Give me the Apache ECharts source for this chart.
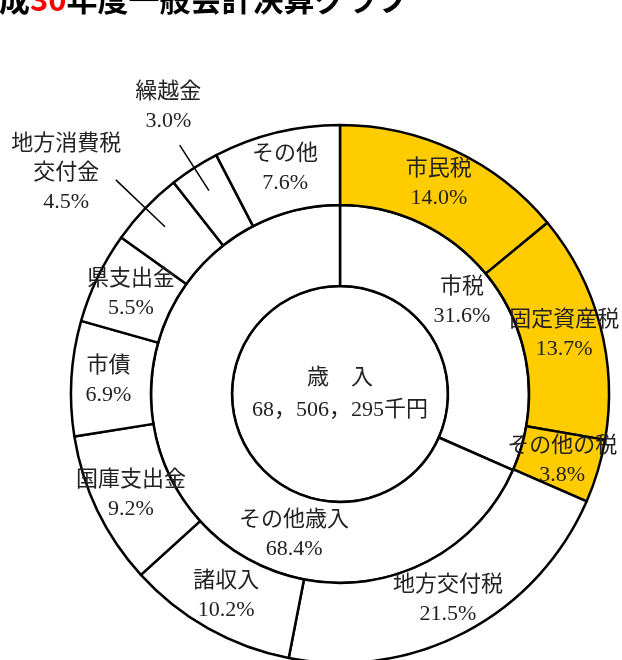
<!DOCTYPE html>
<html>
<head>
<meta charset="utf-8">
<script src="https://cdn.jsdelivr.net/npm/echarts@6/dist/echarts.min.js"></script>
<style>
html, body { margin: 0; padding: 0; background: #fff; }
#main { width: 622px; height: 660px; }
</style>
</head>
<body>
<div id="main"></div>
<script>
// 平成30年度 一般会計 歳入
var totalName = '歳　入';
var totalText = '68，506，295千円';
var innerNames = ['市税', 'その他歳入'];
var innerValues = [31.6, 68.4];
var outerNames = ['市民税', '固定資産税', 'その他の税', '地方交付税', '諸収入', '国庫支出金', '市債', '県支出金', '地方消費税\n交付金', '繰越金', 'その他'];
var outerValues = [14.0, 13.7, 3.8, 21.5, 10.2, 9.2, 6.9, 5.5, 4.5, 3.0, 7.6];
var taxCount = 3;          // 市税の内訳は黄色
var calloutIdx = [8, 9];   // 引出線つきのラベル

var labelFont = '"Liberation Serif", "Noto Sans CJK JP", serif';
var yellow = '#ffcc00';
var lineColor = '#000';

// ラベルのずらし量
var innerShift = { 0: [-5, -10], 1: [81, 58] };
var outerShift = { 8: [-106, -61], 9: [-46, -92] };
var calloutLen = { 8: 68, 9: 54 };

function pctLabel(p) {
    return p.name + '\n' + p.value.toFixed(1) + '%';
}

var labelStyle = {
    show: true,
    position: 'inside',
    color: '#222',
    fontFamily: labelFont,
    fontSize: 22,
    lineHeight: 29,
    formatter: pctLabel
};

var innerData = innerNames.map(function (n, i) {
    return { name: n, value: innerValues[i] };
});
var outerData = outerNames.map(function (n, i) {
    return { name: n, value: outerValues[i], itemStyle: { color: i < taxCount ? yellow : '#fff' } };
});
var helperData = outerNames.map(function (n, i) {
    var d = { name: n, value: outerValues[i] };
    if (calloutIdx.indexOf(i) >= 0) {
        d.label = { show: true, formatter: ' ' };
        d.labelLine = { show: true, length: calloutLen[i], length2: 0 };
    }
    return d;
});

var chart = echarts.init(document.getElementById('main'));
var option = {
    backgroundColor: '#fff',
    animation: false,
    title: {
        left: -32,
        top: -18,
        padding: 0,
        text: '{k|平成}{r|30}{k|年度一般会計決算グラフ}',
        textStyle: {
            rich: {
                k: { fontSize: 31, fontWeight: 'bold', color: '#000', fontFamily: '"Noto Sans CJK JP"', lineHeight: 34 },
                r: { fontSize: 31, fontWeight: 'bold', color: '#ff0000', fontFamily: '"Noto Sans CJK JP"', lineHeight: 34 }
            }
        }
    },
    series: [
        {
            name: '歳入',
            type: 'pie',
            center: [340, 394],
            radius: [0, 108],
            silent: true,
            data: [{ name: totalName, value: 1 }],
            itemStyle: { color: '#fff', borderColor: lineColor, borderWidth: 2.5 },
            label: {
                show: true,
                position: 'center',
                color: '#222',
                fontFamily: labelFont,
                fontSize: 22,
                lineHeight: 32,
                formatter: totalName + '\n' + totalText
            },
            labelLine: { show: false }
        },
        {
            name: '区分',
            type: 'pie',
            center: [340, 394],
            radius: [108, 189],
            startAngle: 90,
            silent: true,
            avoidLabelOverlap: false,
            data: innerData,
            itemStyle: { color: '#fff', borderColor: lineColor, borderWidth: 2.5 },
            label: labelStyle,
            labelLine: { show: false },
            labelLayout: function (p) {
                var s = innerShift[p.dataIndex];
                return s ? { dx: s[0], dy: s[1] } : {};
            }
        },
        {
            name: '内訳',
            type: 'pie',
            center: [340, 394],
            radius: [189, 269],
            startAngle: 90,
            silent: true,
            avoidLabelOverlap: false,
            data: outerData,
            itemStyle: { borderColor: lineColor, borderWidth: 2.5 },
            label: labelStyle,
            labelLine: { show: false },
            labelLayout: function (p) {
                var s = outerShift[p.dataIndex];
                return s ? { dx: s[0], dy: s[1] } : {};
            }
        },
        {
            name: '引出線',
            type: 'pie',
            z: 5,
            center: [340, 394],
            radius: [189, 242],
            startAngle: 90,
            silent: true,
            avoidLabelOverlap: false,
            data: helperData,
            itemStyle: { color: 'rgba(0,0,0,0)', borderWidth: 0 },
            label: { show: false, position: 'outside' },
            labelLine: { show: false, lineStyle: { color: lineColor, width: 1.5 } }
        }
    ]
};
chart.setOption(option);
</script>
</body>
</html>
